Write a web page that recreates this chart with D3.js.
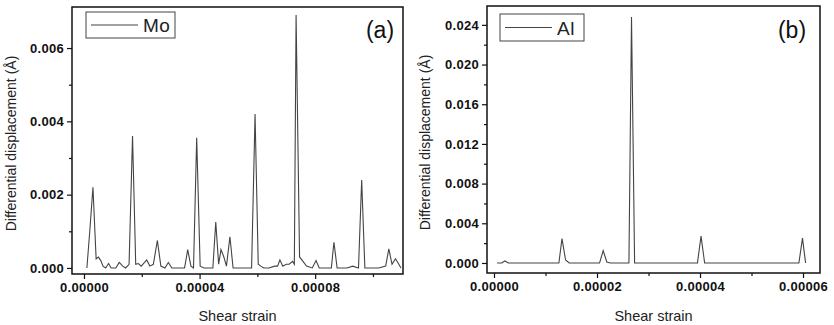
<!DOCTYPE html>
<html>
<head>
<meta charset="utf-8">
<script src="https://cdn.jsdelivr.net/npm/d3@7"></script>
<style>
  body { margin: 0; background: #fff; }
  svg { display: block; font-family: Arial, "Liberation Sans", sans-serif; }
  .tick text { font-weight: bold; font-size: 13px; letter-spacing: 0.3px; fill: #111; }
  .domain { display: none; }
</style>
</head>
<body>
<svg width="834" height="325"></svg>
<script>
// strain in units of 1e-6, displacement in units of 1e-3 Å
const strainMo = [1.0, 2.0, 3.1, 4.2, 5.0, 5.8, 6.6, 7.5, 8.5, 9.4, 11.0, 12.2, 13.4, 14.4, 15.6, 16.8, 17.9, 18.8, 19.8, 21.7, 22.8, 24.0, 25.4, 26.6, 28.0, 29.2, 30.4, 32.0, 34.8, 35.9, 37.0, 37.9, 39.0, 40.2, 41.5, 43.5, 44.6, 45.6, 46.6, 47.4, 48.4, 49.3, 50.5, 51.6, 53.0, 56.0, 58.0, 59.2, 60.3, 61.2, 62.2, 64.0, 66.0, 67.0, 67.8, 68.8, 70.0, 71.0, 72.2, 72.8, 73.4, 74.6, 75.6, 77.0, 79.0, 80.3, 81.4, 83.0, 85.6, 86.5, 87.6, 89.0, 91.0, 93.0, 95.0, 96.1, 97.2, 99.0, 102.0, 104.4, 105.5, 106.6, 107.8, 108.6, 109.7];
const dispMo = [0, 1.0, 2.2, 0.25, 0.3, 0.2, 0.05, 0.0, 0.12, 0.0, 0.0, 0.15, 0.05, 0.0, 0.1, 3.6, 0.1, 0.12, 0.05, 0.22, 0.05, 0.1, 0.75, 0.05, 0.0, 0.15, 0.0, 0.0, 0.0, 0.5, 0.05, 0.0, 3.55, 0.05, 0.0, 0.0, 0.0, 1.25, 0.1, 0.5, 0.3, 0.05, 0.85, 0.0, 0.0, 0.0, 0.0, 4.2, 0.1, 0.05, 0.0, 0.0, 0.05, 0.05, 0.22, 0.05, 0.1, 0.1, 0.18, 0.1, 6.9, 0.3, 0.2, 0.05, 0.0, 0.2, 0.0, 0.0, 0.0, 0.7, 0.0, 0.0, 0.0, 0.05, 0.0, 2.4, 0.0, 0.0, 0.0, 0.05, 0.52, 0.1, 0.25, 0.15, 0.0];

const strainAl = [0.6, 1.5, 2.1, 2.8, 4.0, 12.6, 13.2, 13.9, 14.6, 20.5, 21.2, 21.9, 22.6, 26.2, 26.7, 27.3, 39.5, 40.2, 40.9, 59.2, 59.9, 60.5];
const dispAl = [0, 0, 0.2, 0, 0, 0, 2.45, 0.3, 0, 0, 1.25, 0.1, 0, 0, 24.8, 0, 0, 2.7, 0, 0, 2.5, 0];

const ticksMoX = [0, 4e-5, 8e-5];
const minorMoX = [2e-5, 6e-5, 1e-4];
const ticksMoY = [0, 0.002, 0.004, 0.006];
const minorMoY = [0.001, 0.003, 0.005];

const ticksAlX = [0, 2e-5, 4e-5, 6e-5];
const minorAlX = [1e-5, 3e-5, 5e-5];
const ticksAlY = [0, 0.004, 0.008, 0.012, 0.016, 0.020, 0.024];
const minorAlY = [0.002, 0.006, 0.010, 0.014, 0.018, 0.022];

const svg = d3.select("svg");

function makePanel(opts) {
  const x = d3.scaleLinear().domain(opts.xDomain).range([opts.left, opts.right]);
  const y = d3.scaleLinear().domain(opts.yDomain).range([opts.bottom, opts.top]);
  const g = svg.append("g");

  const pts = opts.strain.map((s, i) => [s * 1e-6, opts.disp[i] * 1e-3]);
  const line = d3.line().x(d => x(d[0])).y(d => y(d[1]));
  g.append("path")
    .datum(pts)
    .attr("d", line)
    .attr("fill", "none")
    .attr("stroke", "#444")
    .attr("stroke-width", 1.1);

  // frame
  g.append("rect")
    .attr("x", opts.left).attr("y", opts.top)
    .attr("width", opts.right - opts.left)
    .attr("height", opts.bottom - opts.top)
    .attr("fill", "none")
    .attr("stroke", "#111")
    .attr("stroke-width", 1.5);

  // axes
  g.append("g")
    .attr("transform", `translate(0,${opts.bottom})`)
    .call(d3.axisBottom(x).tickValues(opts.ticksX).tickSize(5).tickPadding(4).tickFormat(d3.format(".5f")))
    .call(a => a.selectAll("line").attr("stroke", "#111").attr("stroke-width", 1.2));
  g.append("g")
    .attr("transform", `translate(0,${opts.bottom})`)
    .call(d3.axisBottom(x).tickValues(opts.minorX).tickSize(3).tickFormat(""))
    .call(a => a.selectAll("line").attr("stroke", "#111").attr("stroke-width", 1.2));
  g.append("g")
    .attr("transform", `translate(${opts.left},0)`)
    .call(d3.axisLeft(y).tickValues(opts.ticksY).tickSize(5).tickPadding(3).tickFormat(d3.format(".3f")))
    .call(a => a.selectAll("line").attr("stroke", "#111").attr("stroke-width", 1.2));
  g.append("g")
    .attr("transform", `translate(${opts.left},0)`)
    .call(d3.axisLeft(y).tickValues(opts.minorY).tickSize(3).tickFormat(""))
    .call(a => a.selectAll("line").attr("stroke", "#111").attr("stroke-width", 1.2));

  // axis titles
  g.append("text")
    .attr("x", (opts.left + opts.right) / 2)
    .attr("y", 321)
    .attr("text-anchor", "middle")
    .attr("font-size", 14.5)
    .attr("fill", "#222")
    .text("Shear strain");
  g.append("text")
    .attr("transform", `translate(${opts.yTitleX},${(opts.top + opts.bottom) / 2 + 3}) rotate(-90)`)
    .attr("text-anchor", "middle")
    .attr("font-size", 14)
    .attr("fill", "#222")
    .text("Differential displacement (Å)");

  // legend
  const lg = opts.legend;
  g.append("rect")
    .attr("x", lg.x).attr("y", lg.y).attr("width", lg.w).attr("height", lg.h)
    .attr("fill", "none").attr("stroke", "#444").attr("stroke-width", 1);
  g.append("line")
    .attr("x1", lg.x + 5).attr("x2", lg.x + 52)
    .attr("y1", lg.y + lg.h / 2).attr("y2", lg.y + lg.h / 2)
    .attr("stroke", "#444").attr("stroke-width", 1.1);
  g.append("text")
    .attr("x", lg.x + 57).attr("y", lg.y + lg.h / 2 + 7)
    .attr("font-size", 19).attr("letter-spacing", 0.5).attr("fill", "#222")
    .text(opts.name);

  // panel label
  g.append("text")
    .attr("x", opts.labelX).attr("y", 38)
    .attr("text-anchor", "middle")
    .attr("font-size", 23).attr("fill", "#111")
    .text(opts.label);
}

makePanel({
  strain: strainMo, disp: dispMo, name: "Mo", label: "(a)",
  left: 72, right: 403, top: 7, bottom: 274,
  xDomain: [-4.15e-6, 1.104e-4], yDomain: [-0.000165, 0.00712],
  ticksX: ticksMoX, minorX: minorMoX, ticksY: ticksMoY, minorY: minorMoY,
  yTitleX: 16, labelX: 380,
  legend: { x: 86, y: 12, w: 89, h: 26 }
});

makePanel({
  strain: strainAl, disp: dispAl, name: "Al", label: "(b)",
  left: 487, right: 820, top: 6, bottom: 273,
  xDomain: [-1.36e-6, 6.33e-5], yDomain: [-0.00101, 0.0259],
  ticksX: ticksAlX, minorX: minorAlX, ticksY: ticksAlY, minorY: minorAlY,
  yTitleX: 430, labelX: 792,
  legend: { x: 500, y: 14, w: 84, h: 27 }
});
</script>
</body>
</html>
